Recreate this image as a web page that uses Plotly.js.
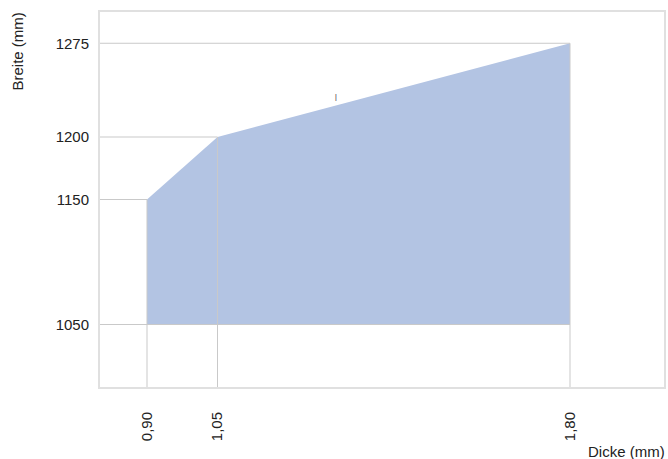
<!DOCTYPE html>
<html>
<head>
<meta charset="utf-8">
<script src="https://cdn.plot.ly/plotly-3.0.1.min.js"></script>
<style>html,body{margin:0;padding:0;background:#fff;}#chart{width:668px;height:459px;}</style>
</head>
<body>
<div id="chart"></div>
<script>
// Data
const thickness = [0.90, 1.05, 1.80];          // Dicke (mm)
const maxWidth = [1150, 1200, 1275];           // Breite max (mm)
const minWidth = 1050;                          // Breite min (mm)
const xTickVals = [0.90, 1.05, 1.80];
const xTickText = ["0,90", "1,05", "1,80"];
const yTickVals = [1050, 1150, 1200, 1275];
const yTickText = ["1050", "1150", "1200", "1275"];
const xRange = [0.8, 2.0];
const yRange = [1000, 1300];

const fillColor = "rgb(179,196,227)";
const gridColor = "#c9c9c9";
const font = "Liberation Sans, Arial, Helvetica, sans-serif";

// Polygon of the feasible region
const polyX = [thickness[0]].concat(thickness, [thickness[thickness.length - 1], thickness[0]]);
const polyY = [minWidth].concat(maxWidth, [minWidth, minWidth]);

const traces = [{
  x: polyX, y: polyY, type: "scatter", mode: "lines",
  fill: "toself", fillcolor: fillColor, line: {width: 0, color: fillColor},
  hoverinfo: "skip", showlegend: false
}];

function hline(y, xEnd) {
  traces.push({x: [xRange[0], xEnd], y: [y, y], type: "scatter", mode: "lines",
    line: {color: gridColor, width: 1}, hoverinfo: "skip", showlegend: false});
}
function vline(x, yEnd) {
  traces.push({x: [x, x], y: [yRange[0], yEnd], type: "scatter", mode: "lines",
    line: {color: gridColor, width: 1}, hoverinfo: "skip", showlegend: false});
}
for (let i = 0; i < thickness.length; i++) {
  hline(maxWidth[i], thickness[i]);
  vline(thickness[i], maxWidth[i]);
}
hline(minWidth, thickness[thickness.length - 1]);

const layout = {
  width: 668, height: 459,
  margin: {l: 100, r: 4, t: 12, b: 72},
  paper_bgcolor: "#fff", plot_bgcolor: "#fff",
  font: {family: font, size: 15, color: "#222"},
  showlegend: false,
  xaxis: {
    range: xRange, showgrid: false, zeroline: false,
    tickmode: "array", tickvals: xTickVals, ticktext: xTickText,
    tickangle: -90, ticks: "", ticklabelstandoff: 17,
    showline: true, mirror: true, linecolor: "#e0e0e0", linewidth: 2,
    tickfont: {family: font, size: 15, color: "#222"}
  },
  yaxis: {
    range: yRange, showgrid: false, zeroline: false,
    tickmode: "array", tickvals: yTickVals, ticktext: yTickText,
    ticks: "", ticklabelstandoff: 6,
    showline: true, mirror: true, linecolor: "#e0e0e0", linewidth: 2,
    tickfont: {family: font, size: 15, color: "#222"}
  },
  annotations: [
    {text: "Breite (mm)", xref: "paper", yref: "paper", x: -0.146, y: 1.003,
     xanchor: "center", yanchor: "top", textangle: -90, showarrow: false,
     font: {family: font, size: 15, color: "#222"}},
    {text: "Dicke (mm)", xref: "paper", yref: "paper", x: 1.005, y: -0.171,
     xanchor: "right", yanchor: "middle", showarrow: false,
     font: {family: font, size: 15, color: "#222"}},
    {text: "|", xref: "x", yref: "y", x: 1.302, y: 1232, showarrow: false,
     font: {family: font, size: 7, color: "#111"}}
  ]
};

Plotly.newPlot("chart", traces, layout, {staticPlot: true, displayModeBar: false});
</script>
</body>
</html>
